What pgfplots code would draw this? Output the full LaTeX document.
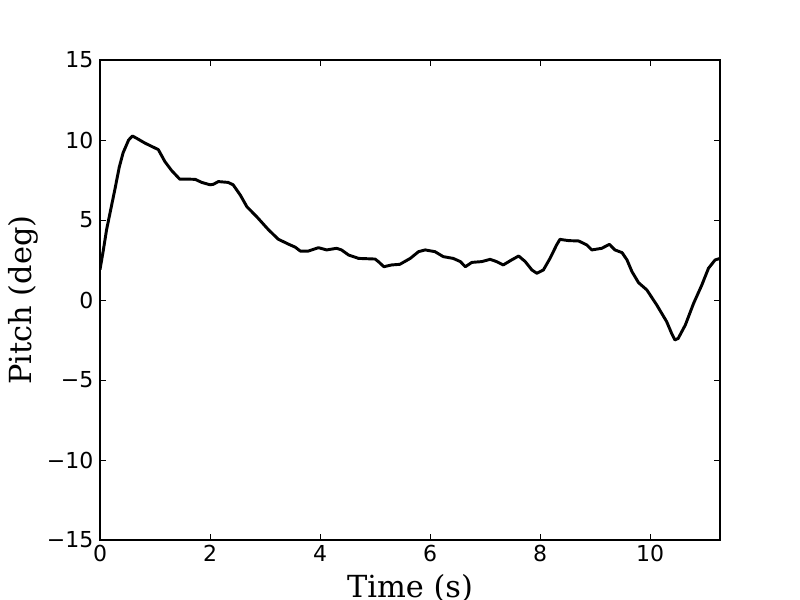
\documentclass[border=0pt]{standalone}
\usepackage{fontspec}
\setmainfont{DejaVu Sans}
\newfontfamily\seriffont{DejaVu Serif}
\usepackage{pgfplots}
\pgfplotsset{compat=1.18}
\begin{document}
\begin{tikzpicture}
\useasboundingbox (-75pt,-45pt) rectangle (525pt,405pt);
\begin{axis}[
  at={(0,0)}, anchor=south west,
  scale only axis,
  width=465pt, height=360pt,
  xmin=0, xmax=11.27, ymin=-15, ymax=15,
  xtick={0,2,4,6,8,10},
  ytick={-15,-10,-5,0,5,10,15},
  yticklabels={−15,−10,−5,0,5,10,15},
  xticklabels={0,2,4,6,8,10},
  tick align=inside,
  major tick length=4.2pt,
  tick style={black, line width=0.6pt},
  axis line style={black, line width=0.8pt},
  ticklabel style={font=\fontsize{16.5}{18}\selectfont},
  xticklabel style={yshift=-0.5pt},
  yticklabel style={xshift=-1.5pt},
  xlabel={Time (s)},
  ylabel={Pitch (deg)},
  label style={font=\seriffont\fontsize{22.8}{26}\selectfont},
  xlabel style={at={([yshift=-42.75pt]axis description cs:0.5,0)}, anchor=base},
  ylabel style={at={([xshift=-51pt]axis description cs:0,0.5)}, anchor=base, rotate=0},
  clip=true,
]
\addplot[black, line width=2.2pt, line join=round] coordinates {
(0.00,1.9) (0.06,3.1) (0.12,4.4) (0.18,5.4) (0.27,6.9) (0.35,8.3) (0.42,9.2)
(0.52,10.0) (0.59,10.25) (0.67,10.1) (0.82,9.8) (1.00,9.5) (1.06,9.4)
(1.18,8.65) (1.30,8.1) (1.45,7.55) (1.55,7.56) (1.73,7.54) (1.85,7.35)
(2.00,7.2) (2.06,7.23) (2.15,7.4) (2.33,7.35) (2.42,7.2) (2.55,6.56)
(2.67,5.83) (2.85,5.2) (3.06,4.4) (3.24,3.8) (3.42,3.5) (3.55,3.3)
(3.64,3.06) (3.79,3.06) (3.97,3.27) (4.12,3.13) (4.30,3.23) (4.39,3.13)
(4.52,2.81) (4.70,2.6) (5.00,2.56) (5.06,2.4) (5.16,2.08) (5.30,2.19)
(5.45,2.23) (5.64,2.6) (5.79,3.02) (5.91,3.13) (6.09,3.02) (6.24,2.71)
(6.42,2.6) (6.55,2.4) (6.64,2.08) (6.76,2.35) (6.94,2.4) (7.09,2.54)
(7.21,2.4) (7.33,2.19) (7.48,2.5) (7.61,2.75) (7.73,2.4) (7.85,1.88)
(7.94,1.67) (8.06,1.88) (8.18,2.6) (8.30,3.44) (8.36,3.79) (8.52,3.71)
(8.70,3.69) (8.85,3.44) (8.94,3.13) (9.12,3.23) (9.26,3.48) (9.36,3.13)
(9.49,2.96) (9.58,2.5) (9.67,1.77) (9.79,1.08) (9.94,0.63) (10.12,-0.31)
(10.30,-1.35) (10.39,-2.08) (10.45,-2.5) (10.51,-2.4) (10.64,-1.56)
(10.79,-0.21) (10.94,0.94) (11.06,1.98) (11.18,2.5) (11.27,2.6)
};
\end{axis}
\end{tikzpicture}
\end{document}
